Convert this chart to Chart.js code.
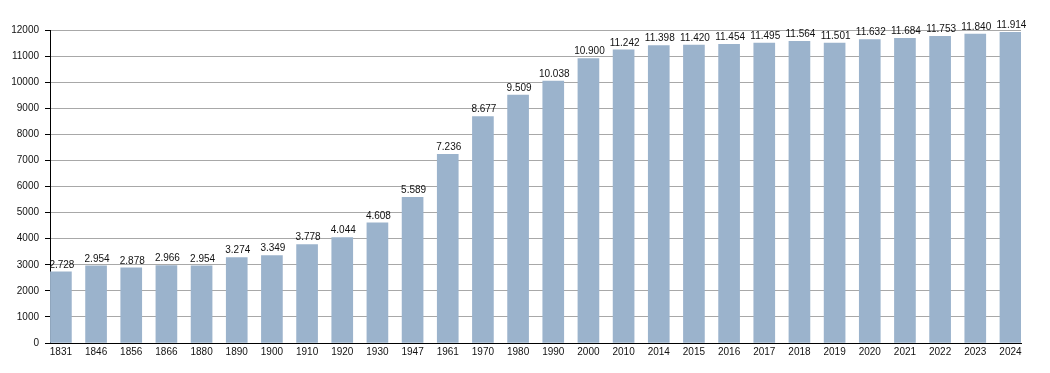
<!DOCTYPE html>
<html>
<head>
<meta charset="utf-8">
<script src="https://cdn.jsdelivr.net/npm/chart.js@4/dist/chart.umd.min.js"></script>
<style>
  html, body { margin: 0; padding: 0; background: #fff; }
  #wrap { width: 1050px; height: 373px; }
</style>
</head>
<body>
<div id="wrap"><canvas id="popChart"></canvas></div>
<script>
// population by year
const years = ["1831","1846","1856","1866","1880","1890","1900","1910","1920","1930","1947","1961","1970","1980","1990","2000","2010","2014","2015","2016","2017","2018","2019","2020","2021","2022","2023","2024"];
const population = [2728,2954,2878,2966,2954,3274,3349,3778,4044,4608,5589,7236,8677,9509,10038,10900,11242,11398,11420,11454,11495,11564,11501,11632,11684,11753,11840,11914];
const yTicks = [0,1000,2000,3000,4000,5000,6000,7000,8000,9000,10000,11000,12000];

const FONT = "'Liberation Sans', Arial, sans-serif";

function fmt(v){ return String(v).replace(/\B(?=(\d{3})+(?!\d))/g, '.'); }

// value labels above each bar
const valueLabels = {
  id: 'valueLabels',
  afterDatasetsDraw(chart){
    const ctx = chart.ctx;
    const meta = chart.getDatasetMeta(0);
    ctx.save();
    ctx.font = "10px " + FONT;
    ctx.fillStyle = '#111';
    ctx.textAlign = 'center';
    ctx.textBaseline = 'bottom';
    meta.data.forEach((bar,i)=>{
      ctx.fillText(fmt(population[i]), bar.x + 1, bar.y - 2);
    });
    ctx.restore();
  }
};

new Chart(document.getElementById('popChart'), {
  type: 'bar',
  data: {
    datasets: [{
      data: population.map((v,i)=>({x:i, y:v})),
      backgroundColor: '#9bb3cc',
      borderWidth: 0,
      barThickness: 21
    }]
  },
  options: {
    responsive: true,
    maintainAspectRatio: false,
    animation: false,
    layout: { padding: { top: 30, right: 29, left: 0, bottom: 0 } },
    plugins: { legend: { display: false }, tooltip: { enabled: false } },
    scales: {
      x: {
        type: 'linear',
        offset: false,
        min: -0.31,
        max: 27.3,
        grid: { display: true, offset: false, color: 'rgba(0,0,0,0)', drawTicks: false },
        border: { color: '#000', width: 1 },
        ticks: {
          stepSize: 1,
          includeBounds: false,
          autoSkip: false,
          maxRotation: 0,
          padding: 3,
          color: '#111',
          font: { family: FONT, size: 10 },
          callback: v => Number.isInteger(v) ? years[v] : ''
        },
        afterFit: s => { s.height = 30; }
      },
      y: {
        min: 0,
        max: 12000,
        grid: {
          color: c => (c.tick && c.tick.value % 1000 === 0) ? '#a8a8a8' : '#e2e2e2',
          tickColor: c => (c.tick && c.tick.value % 1000 === 0) ? '#000' : '#666',
          tickLength: 5
        },
        border: { color: '#000', width: 1 },
        ticks: {
          stepSize: 500,
          padding: 6,
          color: '#111',
          font: { family: FONT, size: 10 },
          callback: v => yTicks.includes(v) ? String(v) : ''
        },
        afterFit: s => { s.width = 50; }
      }
    }
  },
  plugins: [valueLabels]
});
</script>
</body>
</html>
